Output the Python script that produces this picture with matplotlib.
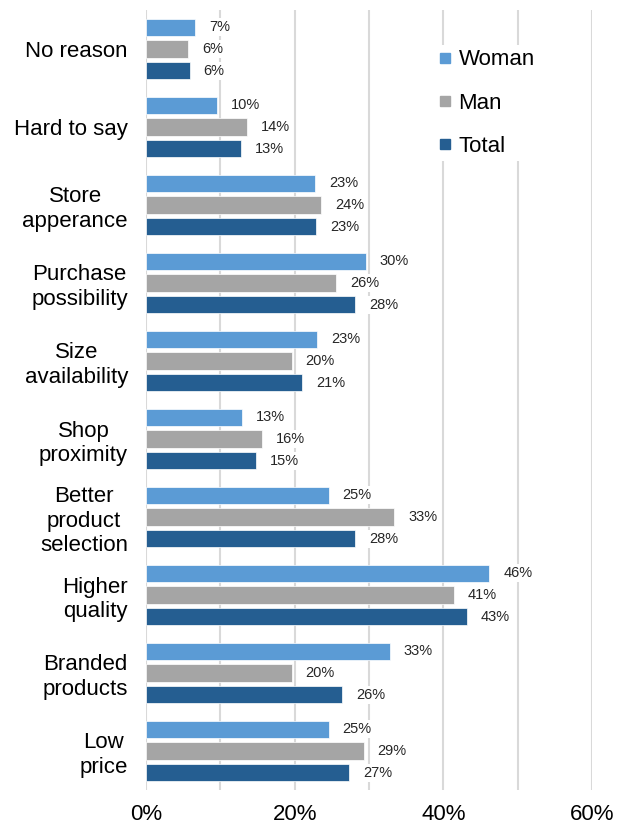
import numpy as np
import matplotlib
matplotlib.use("Agg")
from matplotlib import pyplot as plt
from matplotlib.lines import Line2D

plt.rcParams['font.family'] = ['Liberation Sans', 'DejaVu Sans']

categories = ["No reason", "Hard to say", "Store\napperance", "Purchase\npossibility",
              "Size\navailability", "Shop\nproximity", "Better\nproduct\nselection",
              "Higher\nquality", "Branded\nproducts", "Low\nprice"]
woman = [6.6, 9.6, 22.8, 29.6, 23.0, 12.9, 24.6, 46.2, 32.8, 24.6]
man = [5.7, 13.6, 23.6, 25.6, 19.6, 15.6, 33.4, 41.4, 19.6, 29.3]
total = [5.9, 12.8, 22.9, 28.1, 21.0, 14.8, 28.1, 43.2, 26.4, 27.3]
series = ["Woman", "Man", "Total"]
colors = ["#5B9BD5", "#A5A5A5", "#255E91"]

fig = plt.figure(figsize=(6.32, 8.25), dpi=100)
ax = fig.add_axes([146/632, 1-790/825, (592-146)/632, 780/825])

y = np.arange(len(categories))
step = 0.282
h = 0.218
for i, (name, vals, c) in enumerate(zip(series, [woman, man, total], colors)):
    pos = y + (i - 1) * step
    bars = ax.barh(pos, vals, height=h, color=c, edgecolor='white', linewidth=0.5, zorder=3, label=name)
    for b, v in zip(bars, vals):
        ax.annotate(f"{v:.0f}%", (v, b.get_y() + b.get_height()/2), xytext=(10, 0),
                    textcoords='offset points', ha='left', va='center', fontsize=10.5,
                    color='#262626', zorder=4,
                    bbox=dict(boxstyle='square,pad=0.15', fc='white', ec='none'))

ax.set_xlim(0, 60)
ax.set_ylim(len(categories) - 0.5, -0.5)
ax.set_xticks(np.arange(0, 61, 10))
ax.set_xticklabels(["0%", "", "20%", "", "40%", "", "60%"])
ax.set_yticks(y)
ax.set_yticklabels(categories, fontsize=16, linespacing=1.22)
for lbl in ax.get_yticklabels():
    lbl.set_multialignment('center')
ax.tick_params(axis='y', length=0, pad=13)
ax.tick_params(axis='x', length=0, pad=10, labelsize=16)
ax.grid(axis='x', color='#D9D9D9', linewidth=1.5, zorder=0)
for s in ax.spines.values():
    s.set_visible(False)

handles = [Line2D([], [], marker='s', color=c, linestyle='none', markersize=6.5) for c in colors]
leg = fig.legend(handles, series, loc='upper left', bbox_to_anchor=(434/632, 1-45/825),
                 frameon=True, fontsize=16, handlelength=0.6, handletextpad=0.3,
                 labelspacing=1.0, borderpad=0.2, borderaxespad=0)
leg.get_frame().set_edgecolor('none')
leg.get_frame().set_facecolor('white')
leg.get_frame().set_alpha(1)

fig.savefig("out.png", dpi=100)
